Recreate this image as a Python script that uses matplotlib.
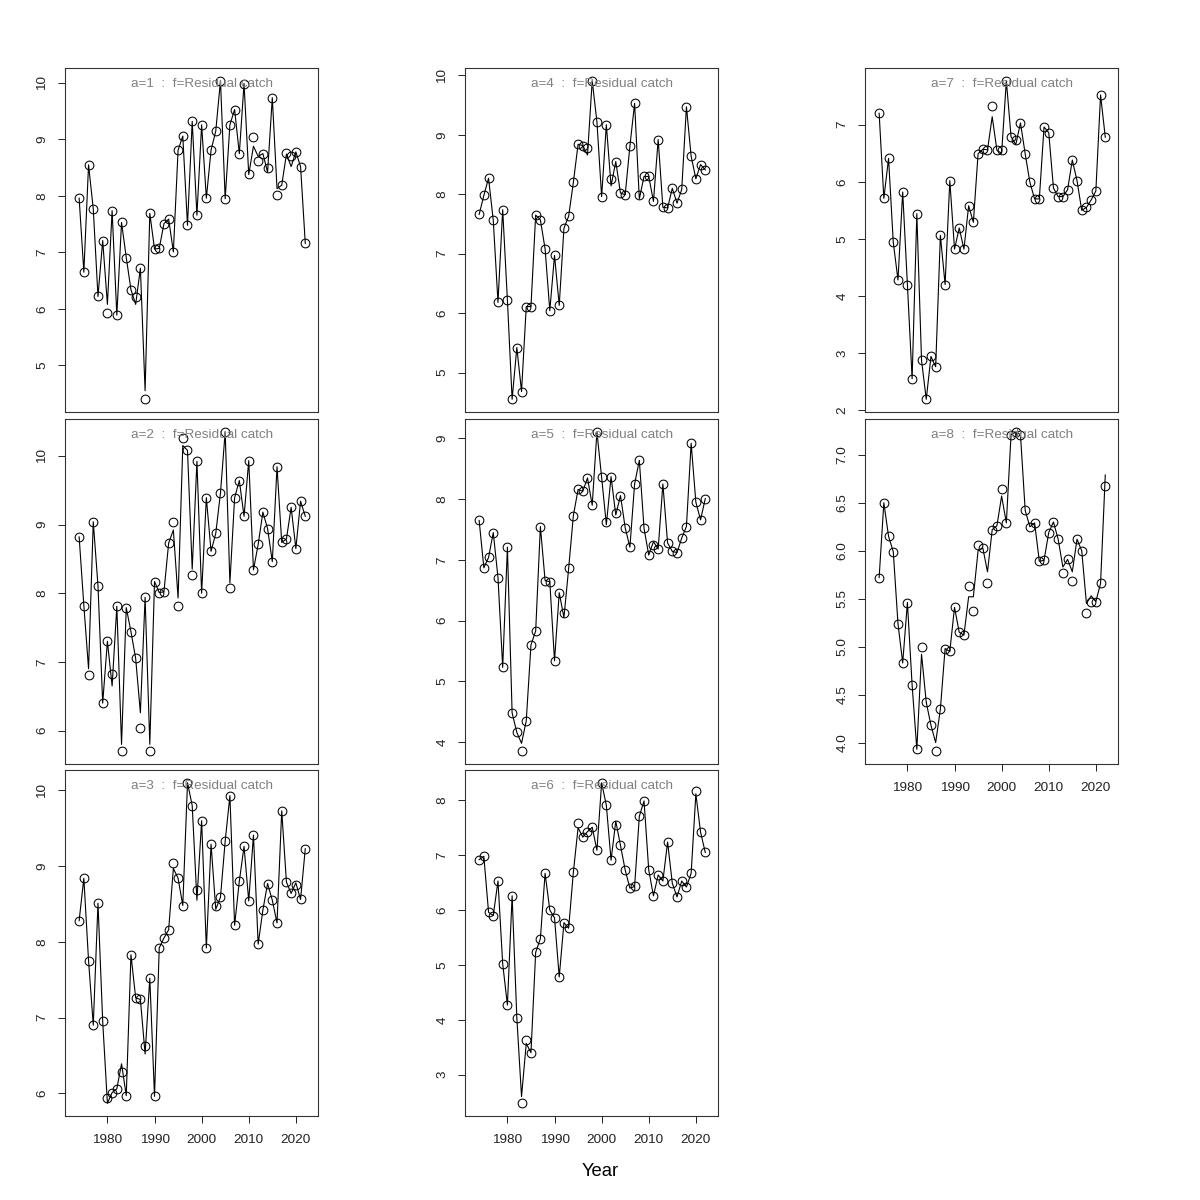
import matplotlib.pyplot as plt
from matplotlib.ticker import MultipleLocator
import matplotlib.transforms as mtransforms

plt.rcParams['font.family'] = ['Liberation Sans', 'DejaVu Sans']

years = list(range(1974, 2023))

# observed values (circles) and fitted values (line), one pair per age
obs1 = [7.96, 6.65, 8.55, 7.77, 6.22, 7.21, 5.92, 7.74, 5.89, 7.53, 6.91, 6.34, 6.21, 6.72, 4.40, 7.69, 7.06, 7.07, 7.51, 7.59,
        7.01, 8.81, 9.06, 7.48, 9.32, 7.66, 9.26, 7.96, 8.81, 9.15, 10.04, 7.95, 9.26, 9.53, 8.75, 9.99, 8.38, 9.04, 8.61, 8.75,
        8.49, 9.74, 8.01, 8.19, 8.76, 8.71, 8.78, 8.52, 7.16]
fit1 = [7.96, 6.65, 8.55, 7.77, 6.22, 7.21, 6.08, 7.74, 5.89, 7.53, 6.91, 6.34, 6.08, 6.72, 4.55, 7.69, 7.06, 7.07, 7.51, 7.59,
        7.01, 8.81, 9.06, 7.48, 9.32, 7.66, 9.26, 7.96, 8.81, 9.15, 10.04, 7.95, 9.26, 9.53, 8.75, 9.99, 8.38, 8.88, 8.70, 8.75,
        8.42, 9.74, 8.13, 8.19, 8.74, 8.52, 8.78, 8.52, 7.16]

obs2 = [8.82, 7.82, 6.81, 9.04, 8.11, 6.40, 7.30, 6.83, 7.81, 5.70, 7.79, 7.44, 7.05, 6.04, 7.94, 5.71, 8.17, 8.01, 8.02, 8.73,
        9.04, 7.81, 10.26, 10.08, 8.27, 9.92, 8.00, 9.39, 8.61, 8.87, 9.46, 10.35, 8.07, 9.39, 9.64, 9.12, 9.93, 8.34, 8.71, 9.18,
        8.94, 8.46, 9.84, 8.74, 8.79, 9.25, 8.65, 9.34, 9.12]
fit2 = [8.82, 7.82, 6.90, 9.04, 8.11, 6.40, 7.30, 6.65, 7.81, 5.80, 7.79, 7.44, 7.05, 6.26, 7.94, 5.80, 8.17, 8.01, 8.02, 8.73,
        8.92, 7.93, 10.15, 10.08, 8.35, 9.92, 8.00, 9.39, 8.61, 8.87, 9.46, 10.35, 8.15, 9.39, 9.64, 9.12, 9.93, 8.34, 8.71, 9.18,
        8.94, 8.46, 9.84, 8.74, 8.79, 9.25, 8.65, 9.34, 9.12]

obs3 = [8.28, 8.84, 7.75, 6.90, 8.51, 6.95, 5.94, 6.01, 6.06, 6.28, 5.97, 7.83, 7.26, 7.24, 6.63, 7.52, 5.96, 7.92, 8.05, 8.16,
        9.04, 8.84, 8.48, 10.10, 9.80, 8.69, 9.60, 7.92, 9.29, 8.48, 8.59, 9.33, 9.93, 8.22, 8.80, 9.26, 8.54, 9.41, 7.97, 8.42,
        8.77, 8.55, 8.25, 9.73, 8.79, 8.64, 8.75, 8.56, 9.23]
fit3 = [8.28, 8.84, 7.75, 6.90, 8.51, 6.95, 5.87, 6.01, 6.06, 6.39, 5.97, 7.83, 7.26, 7.24, 6.52, 7.52, 5.96, 7.92, 8.05, 8.16,
        8.97, 8.84, 8.48, 10.10, 9.80, 8.55, 9.60, 7.92, 9.29, 8.43, 8.59, 9.33, 9.93, 8.22, 8.80, 9.26, 8.54, 9.41, 7.97, 8.42,
        8.77, 8.55, 8.25, 9.73, 8.79, 8.64, 8.78, 8.56, 9.23]

obs4 = [7.66, 7.98, 8.27, 7.56, 6.18, 7.74, 6.22, 4.55, 5.42, 4.68, 6.11, 6.11, 7.65, 7.57, 7.08, 6.04, 6.97, 6.13, 7.43, 7.63,
        8.20, 8.84, 8.82, 8.78, 9.91, 9.22, 7.96, 9.17, 8.26, 8.55, 8.02, 7.99, 8.81, 9.53, 7.98, 8.30, 8.30, 7.88, 8.92, 7.78,
        7.77, 8.10, 7.85, 8.08, 9.47, 8.64, 8.26, 8.50, 8.41]
fit4 = [7.66, 7.98, 8.27, 7.56, 6.18, 7.74, 6.22, 4.55, 5.42, 4.68, 6.11, 6.11, 7.65, 7.57, 7.08, 6.04, 6.97, 6.13, 7.43, 7.63,
        8.20, 8.84, 8.82, 8.66, 9.91, 9.22, 7.96, 9.17, 8.14, 8.55, 8.02, 7.99, 8.81, 9.53, 7.92, 8.30, 8.30, 7.88, 8.92, 7.78,
        7.77, 8.10, 7.85, 8.08, 9.47, 8.64, 8.26, 8.50, 8.41]

obs5 = [7.65, 6.87, 7.04, 7.45, 6.71, 5.23, 7.21, 4.48, 4.16, 3.85, 4.35, 5.60, 5.83, 7.55, 6.66, 6.64, 5.34, 6.46, 6.12, 6.86,
        7.73, 8.16, 8.13, 8.35, 7.90, 9.11, 8.36, 7.63, 8.37, 7.78, 8.06, 7.53, 7.21, 8.25, 8.64, 7.52, 7.08, 7.25, 7.18, 8.25,
        7.28, 7.14, 7.12, 7.36, 7.55, 8.92, 7.95, 7.66, 8.01]
fit5 = [7.65, 6.87, 7.04, 7.45, 6.71, 5.23, 7.21, 4.48, 4.16, 3.98, 4.35, 5.60, 5.83, 7.55, 6.66, 6.64, 5.34, 6.46, 6.05, 6.86,
        7.73, 8.16, 8.13, 8.35, 7.90, 9.11, 8.36, 7.58, 8.37, 7.74, 8.06, 7.53, 7.21, 8.25, 8.64, 7.52, 7.08, 7.30, 7.18, 8.25,
        7.28, 7.14, 7.12, 7.36, 7.55, 8.92, 7.95, 7.66, 8.01]

obs6 = [6.92, 6.98, 5.96, 5.90, 6.53, 5.02, 4.27, 6.26, 4.04, 2.48, 3.63, 3.40, 5.23, 5.48, 6.67, 6.00, 5.86, 4.78, 5.77, 5.67,
        6.69, 7.59, 7.33, 7.43, 7.51, 7.09, 8.32, 7.91, 6.91, 7.56, 7.18, 6.73, 6.40, 6.43, 7.71, 7.99, 6.73, 6.26, 6.64, 6.53,
        7.24, 6.49, 6.24, 6.53, 6.42, 6.67, 8.17, 7.42, 7.05]
fit6 = [6.92, 6.98, 5.96, 5.90, 6.53, 5.02, 4.27, 6.26, 4.04, 2.60, 3.57, 3.40, 5.23, 5.48, 6.67, 6.00, 5.86, 4.78, 5.77, 5.67,
        6.69, 7.50, 7.33, 7.43, 7.51, 7.09, 8.32, 7.91, 6.91, 7.62, 7.18, 6.73, 6.40, 6.43, 7.71, 7.99, 6.73, 6.26, 6.64, 6.53,
        7.24, 6.49, 6.24, 6.53, 6.42, 6.67, 8.12, 7.42, 7.05]

obs7 = [7.20, 5.71, 6.41, 4.94, 4.28, 5.82, 4.20, 2.55, 5.44, 2.87, 2.19, 2.94, 2.76, 5.06, 4.20, 6.02, 4.82, 5.19, 4.82, 5.58,
        5.29, 6.49, 6.57, 6.56, 7.32, 6.55, 6.56, 7.77, 6.79, 6.73, 7.03, 6.49, 5.99, 5.70, 5.70, 6.96, 6.86, 5.89, 5.74, 5.74,
        5.86, 6.38, 6.02, 5.50, 5.55, 5.68, 5.84, 7.52, 6.78]
fit7 = [7.20, 5.71, 6.41, 4.94, 4.28, 5.82, 4.20, 2.55, 5.44, 2.87, 2.19, 2.94, 2.76, 5.06, 4.20, 6.02, 4.82, 5.19, 4.82, 5.58,
        5.29, 6.49, 6.57, 6.56, 7.14, 6.55, 6.50, 7.77, 6.79, 6.65, 7.03, 6.49, 5.99, 5.70, 5.70, 6.96, 6.86, 5.89, 5.74, 5.74,
        5.86, 6.38, 6.02, 5.50, 5.55, 5.68, 5.84, 7.52, 6.78]

obs8 = [5.72, 6.50, 6.15, 5.99, 5.24, 4.83, 5.46, 4.60, 3.93, 5.00, 4.42, 4.18, 3.91, 4.35, 4.98, 4.95, 5.41, 5.15, 5.12, 5.63,
        5.37, 6.06, 6.03, 5.66, 6.22, 6.26, 6.64, 6.29, 7.21, 7.24, 7.21, 6.42, 6.25, 6.29, 5.89, 5.90, 6.19, 6.30, 6.12, 5.77,
        5.91, 5.68, 6.12, 6.00, 5.35, 5.47, 5.47, 5.66, 6.67]
fit8 = [5.72, 6.50, 6.15, 5.99, 5.24, 4.83, 5.46, 4.60, 3.93, 4.92, 4.42, 4.18, 4.00, 4.35, 4.98, 4.95, 5.41, 5.15, 5.12, 5.52,
        5.52, 6.00, 6.03, 5.78, 6.22, 6.26, 6.57, 6.29, 7.21, 7.24, 7.21, 6.42, 6.25, 6.29, 5.89, 5.90, 6.19, 6.30, 6.12, 5.83,
        5.91, 5.78, 6.12, 6.00, 5.45, 5.53, 5.47, 5.66, 6.79]

ages = [1, 2, 3, 4, 5, 6, 7, 8]
observed = [obs1, obs2, obs3, obs4, obs5, obs6, obs7, obs8]
fitted = [fit1, fit2, fit3, fit4, fit5, fit6, fit7, fit8]
ytick_step = [1, 1, 1, 1, 1, 1, 1, 0.5]
xticks = [1980, 1990, 2000, 2010, 2020]

fig = plt.figure(figsize=(12, 12), dpi=100)

lefts = [65 / 1200, 465 / 1200, 865 / 1200]
width = 253 / 1200
rows = [(412, 68), (764, 419), (1116, 770)]  # (bottom, top) in pixels from top

for i, a in enumerate(ages):
    col = i // 3
    row = i % 3
    bot, top = rows[row]
    ax = fig.add_axes([lefts[col], 1 - bot / 1200, width, (bot - top) / 1200])

    ax.plot(years, fitted[i], color='black', lw=0.8)
    ax.plot(years, observed[i], 'o', mfc='none', mec='black', ms=6.3, mew=0.75)

    ax.set_xlim(1971, 2024.7)
    ax.set_ymargin(0.04)
    ax.autoscale_view()
    ax.yaxis.set_major_locator(MultipleLocator(ytick_step[i]))

    for s in ax.spines.values():
        s.set_linewidth(0.8)
        s.set_color('#333333')

    ax.tick_params(axis='y', length=5, width=0.7, labelsize=9.7, pad=7, colors='#222222')
    plt.setp(ax.get_yticklabels(), rotation=90, va='center')

    bottom_panel = (row == 2) or (a == 8)
    if bottom_panel:
        ax.set_xticks(xticks)
        ax.tick_params(axis='x', length=5, width=0.7, labelsize=9.7, pad=8, colors='#222222')
    else:
        ax.set_xticks([])

    trans = mtransforms.blended_transform_factory(ax.transData, ax.transAxes)
    ax.text(2000, 0.953, 'a=%d  :  f=Residual catch' % a, transform=trans,
            ha='center', va='center', color='#808080', fontsize=9.7)

fig.text(0.5, 1 - 1172 / 1200, 'Year', ha='center', va='center', fontsize=13.3)

fig.savefig('out.png', dpi=100)
